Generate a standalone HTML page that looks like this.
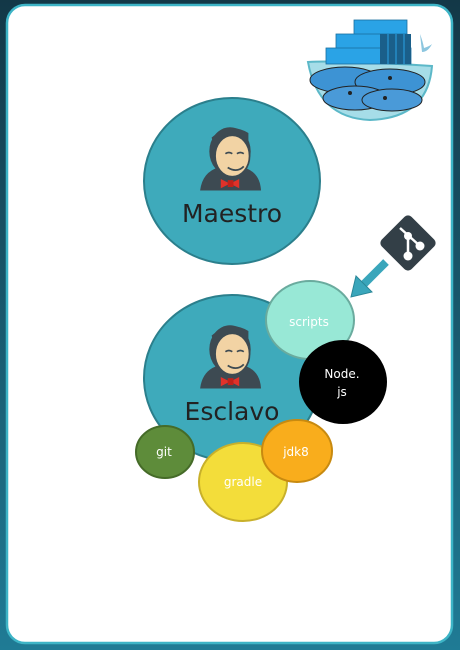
<!DOCTYPE html>
<html><head><meta charset="utf-8"><style>
html,body{margin:0;padding:0;width:460px;height:650px;overflow:hidden;background:linear-gradient(#133847,#1f7b95);}
svg{display:block}
text{font-family:"DejaVu Sans","Liberation Sans",sans-serif}
</style></head><body>
<svg width="460" height="650" viewBox="0 0 460 650">
<defs>
<g id="jenkins">
 <path d="M-26,30 Q-24,14 -10,10 L12,10 Q26,14 27,30 Z" fill="#3d4a52"/>
 <ellipse cx="0" cy="-4" rx="18" ry="21" fill="#3d4a52"/>
 <ellipse cx="2" cy="0" rx="15" ry="18" fill="#f2d3a4" stroke="#3d4a52" stroke-width="1.5"/>
 <path d="M-14,-10 Q-2,-28 16,-12 L16,-20 Q0,-30 -16,-16 Z" fill="#3d4a52"/>
 <path d="M-4,-2 q3,-2 6,0 M6,-2 q3,-2 6,0" stroke="#3d4a52" stroke-width="1.5" fill="none"/>
 <path d="M-2,10 q8,5 14,-1" stroke="#3d4a52" stroke-width="1.5" fill="none"/>
 <path d="M-8,20 L0,24 L-8,28 Z M8,20 L0,24 L8,28 Z" fill="#e0322a"/>
 <rect x="-2" y="21" width="5" height="6" fill="#c1211a"/>
</g>
</defs>
<rect x="7" y="5" width="445" height="638" rx="18" fill="#fff" stroke="#3db4c6" stroke-width="2.5"/>
<g>
 <path d="M308,62 Q340,60 432,66 Q428,118 370,120 Q318,118 308,62 Z" fill="#a6dde8" stroke="#5cb8c8" stroke-width="2"/>
 <rect x="354" y="20" width="53" height="15" fill="#2aa3e6" stroke="#1a6fa0" stroke-width="0.8"/>
 <rect x="336" y="34" width="71" height="15" fill="#2aa3e6" stroke="#1a6fa0" stroke-width="0.8"/>
 <rect x="326" y="48" width="85" height="16" fill="#2aa3e6" stroke="#1a6fa0" stroke-width="0.8"/>
 <rect x="380" y="34" width="31" height="30" fill="#1a5f8a"/>
 <path d="M388,34 V64 M396,34 V64 M404,34 V64" stroke="#2aa3e6" stroke-width="1"/>
 <ellipse cx="345" cy="80" rx="35" ry="13" fill="#3d93d4" stroke="#222" stroke-width="1"/>
 <ellipse cx="390" cy="82" rx="35" ry="13" fill="#3d93d4" stroke="#222" stroke-width="1"/>
 <ellipse cx="355" cy="98" rx="32" ry="12" fill="#4a9ad8" stroke="#222" stroke-width="1"/>
 <ellipse cx="392" cy="100" rx="30" ry="11" fill="#4a9ad8" stroke="#222" stroke-width="1"/>
 <circle cx="390" cy="78" r="2" fill="#222"/><circle cx="350" cy="93" r="2" fill="#222"/><circle cx="385" cy="98" r="2" fill="#222"/>
 <path d="M420,34 q3,8 4,14 q6,-2 8,-4 q-4,8 -10,8 Z" fill="#8cc6df"/>
</g>
<g>
 <ellipse cx="232" cy="181" rx="88" ry="83" fill="#3eaabb" stroke="#2b7f8c" stroke-width="2"/>
 <use href="#jenkins" transform="translate(230,156) scale(1.15)"/>
 <text x="232" y="222" font-size="25" fill="#222" text-anchor="middle">Maestro</text>
</g>
<g>
 <rect x="387" y="222" width="42" height="42" rx="5" fill="#333f47" transform="rotate(45 408 243)"/>
 <path d="M400,228 L420,246 M408,236 L408,256" stroke="#fff" stroke-width="2.5" fill="none"/>
 <circle cx="408" cy="236" r="4" fill="#fff"/><circle cx="420" cy="246" r="4.5" fill="#fff"/><circle cx="408" cy="256" r="4.5" fill="#fff"/>
</g>
<g>
 <line x1="386" y1="262" x2="362" y2="286" stroke="#3aa6bb" stroke-width="8"/>
 <path d="M351,297 L356,276 L372,292 Z" fill="#3aa6bb" stroke="#2a8798" stroke-width="1"/>
</g>
<g>
 <ellipse cx="232" cy="378" rx="88" ry="83" fill="#3eaabb" stroke="#2b7f8c" stroke-width="2"/>
 <use href="#jenkins" transform="translate(230,354) scale(1.15)"/>
 <text x="232" y="420" font-size="25" fill="#222" text-anchor="middle">Esclavo</text>
</g>
<g>
 <ellipse cx="310" cy="320" rx="44" ry="39" fill="#98e8d6" stroke="#6aab9e" stroke-width="2"/>
 <text x="309" y="326" font-size="12" fill="#fff" text-anchor="middle">scripts</text>
</g>
<g>
 <ellipse cx="343" cy="382" rx="44" ry="42" fill="#000"/>
 <text x="342" y="378" font-size="12" fill="#fff" text-anchor="middle">Node.</text>
 <text x="342" y="396" font-size="12" fill="#fff" text-anchor="middle">js</text>
</g>
<g>
 <ellipse cx="165" cy="452" rx="29" ry="26" fill="#5e8c3a" stroke="#456b28" stroke-width="2"/>
 <text x="164" y="456" font-size="12" fill="#fff" text-anchor="middle">git</text>
</g>
<g>
 <ellipse cx="243" cy="482" rx="44" ry="39" fill="#f3dd3a" stroke="#c8b02a" stroke-width="2"/>
 <text x="243" y="486" font-size="12" fill="#fff" text-anchor="middle">gradle</text>
</g>
<g>
 <ellipse cx="297" cy="451" rx="35" ry="31" fill="#f9ad1c" stroke="#c88a10" stroke-width="2"/>
 <text x="296" y="456" font-size="12" fill="#fff" text-anchor="middle">jdk8</text>
</g>
</svg>
</body></html>
